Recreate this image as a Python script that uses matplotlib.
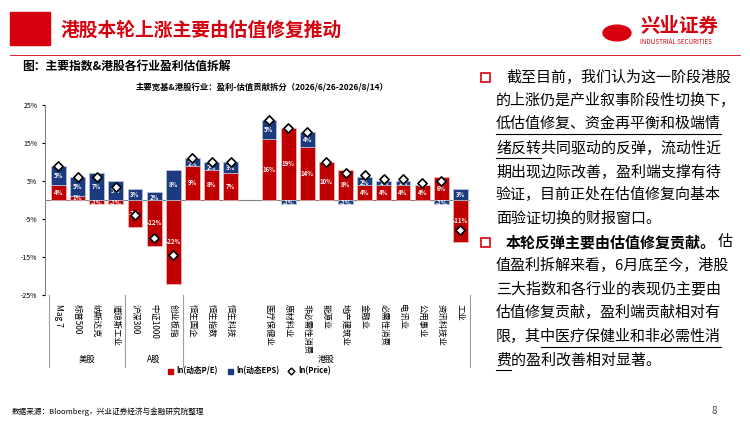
import matplotlib.pyplot as plt
import numpy as np
from matplotlib.patches import Rectangle

plt.rcParams['font.family'] = ['Noto Sans CJK SC', 'DejaVu Sans']

# data
cats = ['Mag 7', '标普500', '纳斯达克', '道琼斯工业', '沪深300', '中证1000', '创业板指',
        '恒生国企', '恒生指数', '恒生科技', '医疗保健业', '原材料业', '非必需性消费',
        '能源业', '地产建筑业', '金融业', '必需性消费', '电讯业', '公用事业', '资讯科技业', '工业']
pe = [4, 1, -1, -1, -7, -12, -22, 9, 8, 7, 16, 19, 14, 10, 8, 4, 4, 4, 4, 6, -11]
eps = [5, 5, 7, 5, 3, 2, 8, 2, 2, 3, 5, -1, 4, 0, -1, 2, 1, 1, 0, -1, 3]
price = [9, 6, 6, 3.5, -4, -10, -14.5, 11, 10, 10, 21, 19, 18, 10, 7, 6.5, 5.5, 5.5, 4.5, 5, -8]

RED = '#C00000'
NAVY = '#1C3A7E'

fig = plt.figure(figsize=(7.5, 4.21), dpi=100)
W, H = 750, 421

def fx(x): return x / W
def fy(y): return 1 - y / H

# header
fig.patches.append(Rectangle((fx(10), fy(45)), fx(40), 33 / H, transform=fig.transFigure, color='#D7000F'))
fig.text(fx(60), fy(30), '港股本轮上涨主要由估值修复推动', color='#D7000F', fontsize=13.5, weight='bold', va='center')
fig.text(fx(640), fy(26), '兴业证券', color='#D7000F', fontsize=14, weight='bold', va='center')
fig.text(fx(640), fy(42), 'INDUSTRIAL SECURITIES', color='#D7000F', fontsize=4.5, va='center')
fig.patches.append(plt.Circle((fx(617), fy(33)), 14 / W, transform=fig.transFigure, color='#D7000F'))
fig.add_artist(plt.Line2D([fx(10), fx(740)], [fy(55), fy(55)], color='#D7000F', lw=0.6))

fig.text(fx(22), fy(66), '图：主要指数&港股各行业盈利估值拆解', fontsize=8.5, weight='bold', va='center')
fig.text(fx(262), fy(88), '主要宽基&港股行业：盈利-估值贡献拆分（2026/6/26-2026/8/14）', fontsize=6,
         weight='bold', va='center', ha='center')

# chart
ax = fig.add_axes([fx(45), fy(295), (470 - 45) / W, 190 / H])
x = np.array(list(range(10)) + list(range(11, 22)), dtype=float)
w = 0.78
pe_a = np.array(pe, float)
eps_a = np.array(eps, float)
eps_base = np.where((eps_a >= 0) == (pe_a >= 0), pe_a, 0.0)
ax.bar(x, pe_a, w, color=RED, edgecolor='#F2C0C0', lw=0.5, zorder=2)
ax.bar(x, eps_a, w, bottom=eps_base, color=NAVY, edgecolor='#C0C8E0', lw=0.5, zorder=2)
ax.scatter(x, price, marker='D', s=22, facecolor='white', edgecolor='black', lw=1.2, zorder=4)
for xi, p, e, b in zip(x, pe_a, eps_a, eps_base):
    ax.text(xi, p / 2 if abs(p) > 2 else (-0.6 if p < 0 else 0.6), f'{int(p)}%', ha='center', va='center',
            color='white', fontsize=4.3, weight='bold', zorder=3)
    ax.text(xi, b + e / 2 if abs(e) > 2 else b + (-0.6 if e < 0 else 0.6 if e > 0 else 0),
            f'{int(e)}%', ha='center', va='center', color='white', fontsize=4.3, weight='bold', zorder=3)
ax.axhline(0, color='#808080', lw=0.8, zorder=1)
ax.set_ylim(-25, 25)
ax.set_yticks([-25, -15, -5, 5, 15, 25])
ax.set_yticklabels([f'{t}%' for t in [-25, -15, -5, 5, 15, 25]], fontsize=5)
ax.set_xlim(-0.7, 21.5)
ax.set_xticks([])
for s in ['top', 'right', 'bottom']:
    ax.spines[s].set_visible(False)
ax.spines['left'].set_color('#808080')
ax.tick_params(axis='y', length=2, colors='black')

# category labels
for xi, c in zip(x, cats):
    ax.text(xi, -27.3, c, rotation=-90, ha='center', va='top', fontsize=6)
for sep in [-0.5, 3.5, 6.5, 21.5]:
    ax.plot([sep, sep], [-25, -44], color='#A0A0A0', lw=0.8, clip_on=False)
for pos, g in [(1.5, '美股'), (5, 'A股'), (14, '港股')]:
    ax.text(pos, -42, g, ha='center', va='center', fontsize=6)

# legend
ly = fy(371)
for lx, col, lab in [(168, RED, 'ln(动态P/E)'), (228, NAVY, 'ln(动态EPS)')]:
    fig.patches.append(Rectangle((fx(lx), ly - 2.5 / H), 5 / W, 5 / H, transform=fig.transFigure, color=col))
    fig.text(fx(lx + 8), ly, lab, fontsize=5.5, weight='bold', va='center')
fig.add_artist(plt.Line2D([fx(291)], [ly], marker='D', ms=3.5, mfc='white', mec='black', mew=1,
                          transform=fig.transFigure))
fig.text(fx(298), ly, 'ln(Price)', fontsize=5.5, weight='bold', va='center')

# right text
lines = [
    ('□ ', '截至目前，我们认为这一阶段港股', None),
    ('', '的上涨仍是产业叙事阶段性切换下，', None),
    ('', '低估值修复、资金再平衡和极端情', (0, 15)),
    ('', '绪反转共同驱动的反弹，流动性近', (0, 3)),
    ('', '期出现边际改善，盈利端支撑有待', None),
    ('', '验证，目前正处在估值修复向基本', None),
    ('', '面验证切换的财报窗口。', None),
    ('□ ', '本轮反弹主要由估值修复贡献。估', 'bold'),
    ('', '值盈利拆解来看，6月底至今，港股', None),
    ('', '三大指数和各行业的表现仍主要由', None),
    ('', '估值修复贡献，盈利端贡献相对有', None),
    ('', '限，其中医疗保健业和非必需性消', (3, 15)),
    ('', '费的盈利改善相对显著。', (0, 1)),
]
fs = 10.8
cw = fs * 100 / 72
x0 = 496
for i, (bul, txt, fmt) in enumerate(lines):
    y = 77 + i * 23.6
    if bul:
        fig.patches.append(Rectangle((fx(481), fy(y + 5)), 9 / W, 9 / H, transform=fig.transFigure,
                                     fill=False, edgecolor='#D7000F', lw=1.2))
    if fmt == 'bold':
        fig.text(fx(x0 + 10), fy(y), txt[:14], fontsize=fs, weight='bold', va='center')
        fig.text(fx(x0 + 12 + 14 * cw), fy(y), txt[14:], fontsize=fs, va='center')
    else:
        xs = x0 + 10 if bul else x0
        fig.text(fx(xs), fy(y), txt, fontsize=fs, va='center')
        if fmt:
            a, b = fmt
            fig.add_artist(plt.Line2D([fx(xs + a * cw), fx(xs + b * cw)], [fy(y + 10), fy(y + 10)],
                                      color='black', lw=0.8))

# footer
fig.text(fx(12), fy(412), '数据来源：Bloomberg，兴业证券经济与金融研究院整理', fontsize=5.5, va='center')
fig.text(fx(712), fy(411), '8', fontsize=7, va='center', color='#404040')

fig.savefig('out.png', dpi=100)
